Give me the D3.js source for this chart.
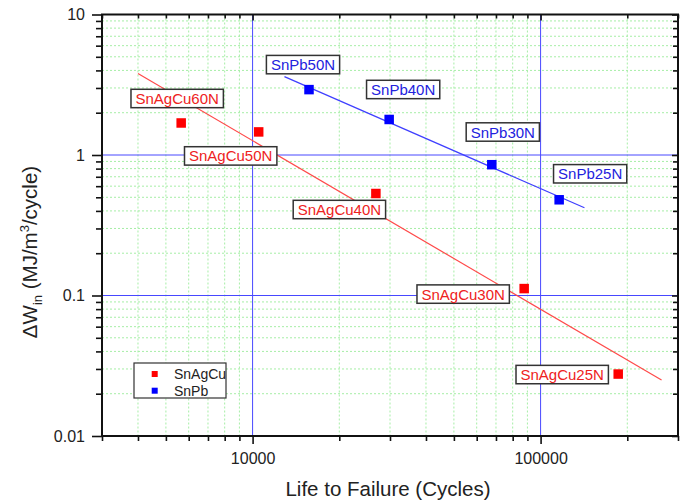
<!DOCTYPE html>
<html>
<head>
<meta charset="utf-8">
<script src="https://cdn.jsdelivr.net/npm/d3@7"></script>
<style>
  html, body { margin: 0; padding: 0; background: #fff; }
  svg { display: block; font-family: "Liberation Sans", Arial, sans-serif; }
</style>
</head>
<body>
<svg id="chart" width="690" height="504"></svg>
<script>
// ---- data ----
const agLabels = ["SnAgCu60N", "SnAgCu50N", "SnAgCu40N", "SnAgCu30N", "SnAgCu25N"];
const agLife   = [5650, 10500, 26800, 87700, 186000];
const agEnergy = [1.69, 1.46, 0.532, 0.112, 0.0276];

const pbLabels = ["SnPb50N", "SnPb40N", "SnPb30N", "SnPb25N"];
const pbLife   = [15700, 29800, 67700, 116000];
const pbEnergy = [2.92, 1.79, 0.853, 0.48];

// fitted power-law lines (end points)
const agFitLife   = [4000, 263000];
const agFitEnergy = [3.80, 0.025];
const pbFitLife   = [12900, 142000];
const pbFitEnergy = [3.61, 0.421];

const xTickValues = [10000, 100000];
const xTickLabels = ["10000", "100000"];
const yTickValues = [0.01, 0.1, 1, 10];
const yTickLabels = ["0.01", "0.1", "1", "10"];

const legendNames = ["SnAgCu", "SnPb"];

// ---- layout ----
const W = 690, H = 504;
const pLeft = 102, pRight = 678, pTop = 14.5, pBottom = 436;
const agLabelOffsets = [[-4, -24.5], [-28, 24], [-36.5, 16], [-61, 5.5], [-56, 0.5]];
const pbLabelOffsets = [[-6, -25], [14, -30], [11, -32.7], [31, -26]];

const RED = "#ff0000", BLUE = "#0000ff";
const RED_TXT = "#ee2222", BLUE_TXT = "#2222dd";
const RED_LINE = "#ff4a4a", BLUE_LINE = "#3f3fff";

const svg = d3.select("#chart");
svg.append("rect").attr("width", W).attr("height", H).attr("fill", "#fff");

const x = d3.scaleLog().domain([3000, 300000]).range([pLeft, pRight]);
const y = d3.scaleLog().domain([0.01, 10]).range([pBottom, pTop]);

// minor tick values (2..9 of each decade inside the domain)
function minorTicks(scale) {
  const [a, b] = scale.domain();
  const out = [];
  for (let e = Math.floor(Math.log10(a)); e <= Math.ceil(Math.log10(b)); e++) {
    for (let m = 2; m <= 9; m++) {
      const v = m * Math.pow(10, e);
      if (v >= a * 0.999 && v <= b * 1.001) out.push(v);
    }
  }
  return out;
}
const xMinor = minorTicks(x);
const yMinor = minorTicks(y);

// ---- grid ----
const grid = svg.append("g");
grid.selectAll(".gxm").data(xMinor).join("line")
  .attr("x1", d => x(d)).attr("x2", d => x(d))
  .attr("y1", pTop).attr("y2", pBottom)
  .attr("stroke", "#a6eea6").attr("stroke-width", 1).attr("stroke-dasharray", "2,2");
grid.selectAll(".gym").data(yMinor).join("line")
  .attr("y1", d => y(d)).attr("y2", d => y(d))
  .attr("x1", pLeft).attr("x2", pRight)
  .attr("stroke", "#a6eea6").attr("stroke-width", 1).attr("stroke-dasharray", "2,2");
grid.selectAll(".gxM").data(xTickValues).join("line")
  .attr("x1", d => x(d)).attr("x2", d => x(d))
  .attr("y1", pTop).attr("y2", pBottom)
  .attr("stroke", "#4848ff").attr("stroke-width", 1);
grid.selectAll(".gyM").data(yTickValues.filter(v => v > 0.01 && v < 10)).join("line")
  .attr("y1", d => y(d)).attr("y2", d => y(d))
  .attr("x1", pLeft).attr("x2", pRight)
  .attr("stroke", "#4848ff").attr("stroke-width", 1);

// ---- axes ----
const axB = d3.axisBottom(x).tickValues(xTickValues).tickFormat((d, i) => xTickLabels[i]).tickSize(8).tickPadding(9);
const axBm = d3.axisBottom(x).tickValues(xMinor).tickFormat("").tickSize(5);
const axT = d3.axisBottom(x).tickValues(xTickValues).tickFormat("").tickSize(6);
const axTm = d3.axisBottom(x).tickValues(xMinor).tickFormat("").tickSize(4);
const axL = d3.axisLeft(y).tickValues(yTickValues).tickFormat((d, i) => yTickLabels[i]).tickSize(10).tickPadding(7);
const axLm = d3.axisLeft(y).tickValues(yMinor).tickFormat("").tickSize(6);
const axR = d3.axisLeft(y).tickValues(yTickValues).tickFormat("").tickSize(6);
const axRm = d3.axisLeft(y).tickValues(yMinor).tickFormat("").tickSize(5);

function styleAxis(g) {
  g.select(".domain").remove();
  g.selectAll(".tick line").attr("stroke", "#111").attr("stroke-width", 1.6);
  g.selectAll(".tick text").attr("fill", "#222").style("font-size", "16px")
    .style("font-family", "'Liberation Sans', Arial, sans-serif");
}
svg.append("g").attr("transform", `translate(0,${pBottom})`).call(axB).call(styleAxis);
svg.append("g").attr("transform", `translate(0,${pBottom})`).call(axBm).call(styleAxis);
svg.append("g").attr("transform", `translate(0,${pTop})`).call(axT).call(styleAxis);
svg.append("g").attr("transform", `translate(0,${pTop})`).call(axTm).call(styleAxis);
svg.append("g").attr("transform", `translate(${pLeft},0)`).call(axL).call(styleAxis);
svg.append("g").attr("transform", `translate(${pLeft},0)`).call(axLm).call(styleAxis);
svg.append("g").attr("transform", `translate(${pRight},0)`).call(axR).call(styleAxis);
svg.append("g").attr("transform", `translate(${pRight},0)`).call(axRm).call(styleAxis);

// frame
svg.append("rect").attr("x", pLeft).attr("y", pTop)
  .attr("width", pRight - pLeft).attr("height", pBottom - pTop)
  .attr("fill", "none").attr("stroke", "#111").attr("stroke-width", 2);

// ---- fit lines ----
const line = d3.line().x(d => x(d[0])).y(d => y(d[1]));
svg.append("path").datum(d3.zip(agFitLife, agFitEnergy)).attr("d", line)
  .attr("fill", "none").attr("stroke", RED_LINE).attr("stroke-width", 1.2);
svg.append("path").datum(d3.zip(pbFitLife, pbFitEnergy)).attr("d", line)
  .attr("fill", "none").attr("stroke", BLUE_LINE).attr("stroke-width", 1.2);

// ---- markers ----
const ms = 9.5;
svg.selectAll(".ag").data(d3.zip(agLife, agEnergy)).join("rect")
  .attr("x", d => x(d[0]) - ms / 2).attr("y", d => y(d[1]) - ms / 2)
  .attr("width", ms).attr("height", ms).attr("fill", RED);
svg.selectAll(".pb").data(d3.zip(pbLife, pbEnergy)).join("rect")
  .attr("x", d => x(d[0]) - ms / 2).attr("y", d => y(d[1]) - ms / 2)
  .attr("width", ms).attr("height", ms).attr("fill", BLUE);

// ---- point labels ----
function drawLabels(names, lifes, energies, offsets, color) {
  names.forEach((name, i) => {
    const cx = x(lifes[i]) + offsets[i][0];
    const cy = y(energies[i]) + offsets[i][1];
    const g = svg.append("g");
    const t = g.append("text").attr("x", cx).attr("y", cy + 5.5)
      .attr("text-anchor", "middle").attr("fill", color)
      .style("font-size", "15px").text(name);
    const w = t.node().getComputedTextLength() + 9;
    g.insert("rect", "text").attr("x", cx - w / 2).attr("y", cy - 9.2)
      .attr("width", w).attr("height", 18.4)
      .attr("fill", "#fff").attr("stroke", "#333").attr("stroke-width", 1.5);
  });
}
drawLabels(agLabels, agLife, agEnergy, agLabelOffsets, RED_TXT);
drawLabels(pbLabels, pbLife, pbEnergy, pbLabelOffsets, BLUE_TXT);

// ---- legend ----
const lg = svg.append("g");
lg.append("rect").attr("x", 134).attr("y", 363).attr("width", 92).attr("height", 35)
  .attr("fill", "#fff").attr("stroke", "#333").attr("stroke-width", 1.2);
[RED, BLUE].forEach((c, i) => {
  const yy = 374 + i * 16.7;
  lg.append("rect").attr("x", 151.7).attr("y", yy - 3).attr("width", 6).attr("height", 6).attr("fill", c);
  lg.append("text").attr("x", 174).attr("y", yy + 5).attr("fill", "#222")
    .style("font-size", "14px").text(legendNames[i]);
});

// ---- axis titles ----
svg.append("text").attr("x", 388).attr("y", 496).attr("text-anchor", "middle")
  .attr("fill", "#222").style("font-size", "20.5px").text("Life to Failure (Cycles)");

const yt = svg.append("text").attr("transform", "translate(37,252) rotate(-90)")
  .attr("text-anchor", "middle").attr("fill", "#222").style("font-size", "20.5px");
yt.append("tspan").text("\u0394W");
yt.append("tspan").attr("dy", 5).style("font-size", "13px").text("in");
yt.append("tspan").attr("dy", -5).text(" (MJ/m");
yt.append("tspan").attr("dy", -8).style("font-size", "13px").text("3");
yt.append("tspan").attr("dy", 8).text("/cycle)");
</script>
</body>
</html>
